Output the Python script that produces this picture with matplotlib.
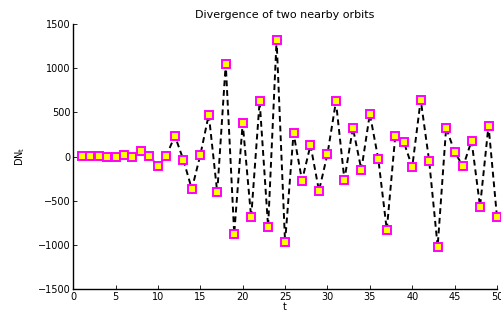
import matplotlib
matplotlib.use("Agg")
import matplotlib.pyplot as plt

t = list(range(1, 51))
dn = [8, 8, 8, -5, -5, 16, -5, 61, 5, -113,
      10, 234, -37, -369, 16, 475, -407, 1049, -875, 378,
      -690, 627, -796, 1321, -973, 265, -272, 129, -388, 27,
      623, -264, 325, -150, 483, -30, -830, 234, 166, -120,
      642, -52, -1019, 325, 53, -113, 178, -566, 351, -686]

xticks = list(range(0, 51, 5))
yticks = list(range(-1500, 1501, 500))

plt.rcParams["font.family"] = ["DejaVu Sans"]

fig = plt.figure(figsize=(5.01, 3.16), dpi=100)
ax = fig.add_axes([0.146, 0.0854, 0.846, 0.8386])

ax.plot(t, dn, color="black", linestyle="--", linewidth=1.4, dashes=(3, 2),
        marker="s", markersize=5.5, markerfacecolor="yellow",
        markeredgecolor="magenta", markeredgewidth=1.4, clip_on=False)

ax.set_xlim(0, 50)
ax.set_ylim(-1500, 1500)
ax.set_xticks(xticks)
ax.set_yticks(yticks)
ax.tick_params(direction="in", length=3, width=0.6, labelsize=7, pad=2)
for s in ["top", "right"]:
    ax.spines[s].set_visible(False)
for s in ["left", "bottom"]:
    ax.spines[s].set_linewidth(1.0)

ax.set_title("Divergence of two nearby orbits", fontsize=8, pad=4)
ax.set_xlabel("t", fontsize=7, labelpad=0)
ax.set_ylabel("DN$_\\mathregular{t}$", fontsize=7, labelpad=8)

fig.savefig("out.png", dpi=100)
